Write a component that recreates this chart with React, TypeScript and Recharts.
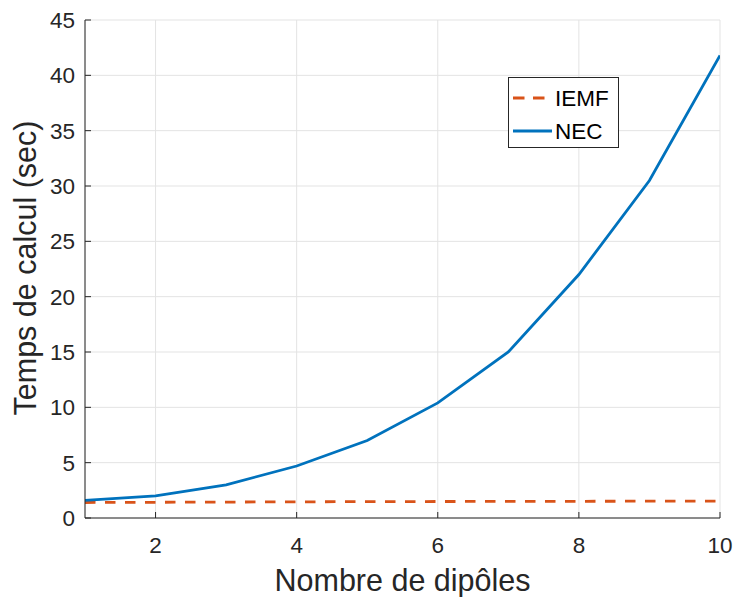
import React from 'react';
import { LineChart, Line, XAxis, YAxis, CartesianGrid, Legend } from 'recharts';

const dipoles = [1, 2, 3, 4, 5, 6, 7, 8, 9, 10];
const iemfTimes = [1.4, 1.42, 1.44, 1.46, 1.48, 1.49, 1.5, 1.51, 1.52, 1.53];
const necTimes = [1.6, 2.0, 3.0, 4.7, 7.0, 10.4, 15.0, 22.0, 30.5, 41.8];
const xTicks = [2, 4, 6, 8, 10];
const yTicks = [0, 5, 10, 15, 20, 25, 30, 35, 40, 45];
const seriesNames = ['IEMF', 'NEC'];

const data = dipoles.map((d, i) => ({ n: d, iemf: iemfTimes[i], nec: necTimes[i] }));

const TXT = '#262626';
const FONT = '"Liberation Sans", Arial, Helvetica, sans-serif';
const TICK = 6;
const TICK_FS = 22.5;
const LABEL_FS = 30.5;

const BottomTick = (p: any) => (
  <g>
    <line x1={p.x} y1={p.y} x2={p.x} y2={p.y - TICK} stroke={TXT} strokeWidth={1} />
    <text x={p.x} y={p.y + 35} textAnchor="middle" fill={TXT} fontSize={TICK_FS} fontFamily={FONT}>
      {p.payload.value}
    </text>
  </g>
);
const LeftTick = (p: any) => (
  <g>
    <line x1={p.x} y1={p.y} x2={p.x + TICK} y2={p.y} stroke={TXT} strokeWidth={1} />
    <text x={p.x - 10} y={p.y + 8} textAnchor="end" fill={TXT} fontSize={TICK_FS} fontFamily={FONT}>
      {p.payload.value}
    </text>
  </g>
);
const TopTick = (p: any) => (
  <line x1={p.x} y1={p.y} x2={p.x} y2={p.y + TICK} stroke={TXT} strokeWidth={1} />
);
const RightTick = (p: any) => (
  <line x1={p.x} y1={p.y} x2={p.x - TICK} y2={p.y} stroke={TXT} strokeWidth={1} />
);

const LegendBox = (props: any) => {
  const items = props.payload || [];
  return (
    <div
      style={{
        width: 109,
        height: 69,
        border: '1px solid #262626',
        background: '#fff',
        boxSizing: 'content-box',
      }}
    >
      <svg width={109} height={69} style={{ display: 'block' }}>
        {items.map((it: any, i: number) => (
          <g key={i}>
            <line
              x1={4}
              x2={43}
              y1={20 + i * 33}
              y2={20 + i * 33}
              stroke={it.color}
              strokeWidth={2.8}
              strokeDasharray={i === 0 ? '11.5 8.5' : undefined}
            />
            <text x={46} y={28 + i * 33} fontSize={TICK_FS} fontFamily={FONT} fill="#000">
              {it.value}
            </text>
          </g>
        ))}
      </svg>
    </div>
  );
};

export default function App() {
  return (
    <div style={{ position: 'absolute', left: 0, top: 0, background: '#fff' }}>
      <LineChart width={734} height={597} data={data} margin={{ top: 20, right: 14, bottom: 0, left: 0 }}>
        <CartesianGrid stroke="#e3e3e3" strokeWidth={1} />
        <XAxis
          dataKey="n"
          type="number"
          domain={[1, 10]}
          allowDataOverflow
          ticks={xTicks}
          interval={0}
          height={79}
          tickSize={0}
          tickMargin={0}
          tickLine={false}
          axisLine={{ stroke: TXT, strokeWidth: 1 }}
          tick={<BottomTick />}
          label={(lp: any) => {
            const vb = lp.viewBox;
            return (
              <text x={vb.x + vb.width / 2} y={591} textAnchor="middle" fill={TXT} fontSize={LABEL_FS} fontFamily={FONT}>
                Nombre de dipôles
              </text>
            );
          }}
        />
        <XAxis
          xAxisId="top"
          orientation="top"
          type="number"
          domain={[1, 10]}
          allowDataOverflow
          ticks={xTicks}
          interval={0}
          height={0}
          tickSize={0}
          tickMargin={0}
          tickLine={false}
          axisLine={{ stroke: TXT, strokeWidth: 1 }}
          tick={<TopTick />}
        />
        <YAxis
          type="number"
          domain={[0, 45]}
          allowDataOverflow
          ticks={yTicks}
          interval={0}
          width={85}
          tickSize={0}
          tickMargin={0}
          tickLine={false}
          axisLine={{ stroke: TXT, strokeWidth: 1 }}
          tick={<LeftTick />}
          label={() => (
            <text
              x={36}
              y={268}
              transform="rotate(-90, 36, 268)"
              textAnchor="middle"
              fill={TXT}
              fontSize={LABEL_FS}
              fontFamily={FONT}
            >
              Temps de calcul (sec)
            </text>
          )}
        />
        <YAxis
          yAxisId="right"
          orientation="right"
          type="number"
          domain={[0, 45]}
          allowDataOverflow
          ticks={yTicks}
          interval={0}
          width={0}
          tickSize={0}
          tickMargin={0}
          tickLine={false}
          axisLine={{ stroke: TXT, strokeWidth: 1 }}
          tick={<RightTick />}
        />
        <Legend
          layout="vertical"
          align="center"
          verticalAlign="middle"
          content={<LegendBox />}
          wrapperStyle={{ left: 508, top: 77, width: 111, height: 71 }}
        />
        <Line
          type="linear"
          dataKey="iemf"
          name={seriesNames[0]}
          stroke="#D95319"
          strokeWidth={2.8}
          strokeDasharray="10.5 9.5"
          dot={false}
          isAnimationActive={false}
        />
        <Line
          type="linear"
          dataKey="nec"
          name={seriesNames[1]}
          stroke="#0072BD"
          strokeWidth={2.8}
          dot={false}
          isAnimationActive={false}
        />
      </LineChart>
    </div>
  );
}
